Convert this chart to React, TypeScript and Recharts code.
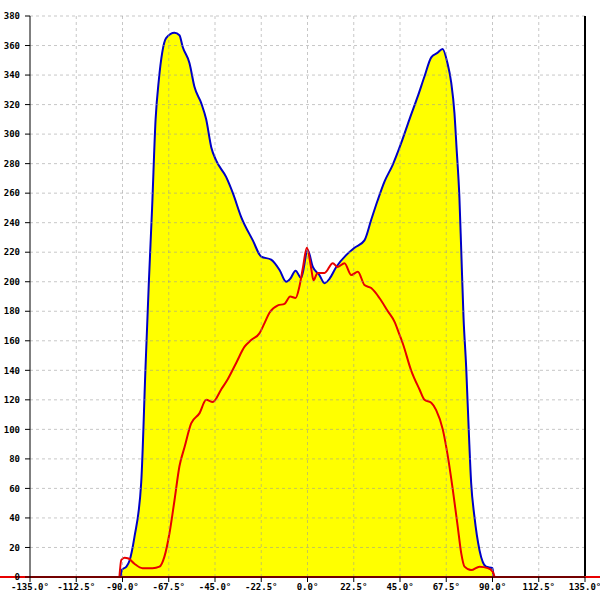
import * as React from "react"
import {
  ComposedChart,
  Area,
  Line,
  XAxis,
  YAxis,
  ReferenceLine,
} from "recharts"

// angle (deg) / intensity pairs
const outerAngles = [
  -91.0, -90.2, -88.1, -86.6, -84.2, -80.9, -78.8, -77.2, -75.6, -73.9, -72.3, -70.7, -68.8,
  -64.7, -62.3, -60.7, -57.4, -55.0, -51.7, -49.3, -46.8, -44.4, -39.6, -36.3, -32.3, -26.6,
  -22.5, -17.7, -13.6, -10.4, -8.4, -5.8, -3.1, 0.1, 2.6, 5.8, 8.3, 10.7, 14.0, 18.8, 22.9,
  27.7, 31.0, 34.1, 37.5, 41.4, 45.6, 49.6, 53.5, 56.9, 60.2, 63.2, 65.7, 68.1, 69.9, 71.5,
  72.5, 73.9, 74.8, 75.9, 77.2, 78.5, 79.6, 81.2, 83.7, 86.9, 90.0, 90.5,
]
const outerValues = [
  0, 5, 7, 11, 27, 64, 142, 199, 250, 310, 337, 355, 365,
  368.7, 367, 359, 348, 332, 321, 310, 291, 282, 271, 260, 244, 228,
  217, 215, 208, 200, 202, 207.5, 202.5, 221.5, 210, 204.5, 199, 202, 210, 218, 223,
  228, 242, 255, 268, 279, 294, 310, 325, 339, 352, 355, 357.6, 348, 335, 314,
  291, 257, 221, 176, 142, 97.5, 64, 41, 18, 7, 6, 0,
]

const innerAngles = [
  -91.5, -90.6, -89.0, -87.1, -84.2, -80.3, -75.4, -72.0, -69.6, -67.1, -64.7, -62.3, -59.8,
  -56.6, -52.5, -49.3, -46.1, -42.0, -38.8, -34.7, -30.6, -27.4, -23.4, -20.9, -18.5, -14.4,
  -11.2, -8.4, -5.8, -3.9, -2.3, -0.3, 1.8, 2.9, 4.9, 8.3, 12.3, 14.7, 18.0, 21.3, 24.5,
  27.7, 31.0, 35.0, 39.1, 42.3, 44.8, 46.4, 50.4, 54.5, 56.9, 60.2, 62.6, 65.8, 68.3, 70.7,
  73.1, 74.8, 76.4, 79.6, 83.7, 87.7, 90.1, 91.0,
]
const innerValues = [
  0, 11.5, 13, 12.5, 9, 6, 6, 7, 13.8, 30, 52, 75, 88,
  104, 111, 120, 118.5, 127, 134, 145, 156, 160.5, 165, 172, 179, 184,
  185, 190, 189, 197, 209, 223, 209, 201, 206, 206, 212.6, 210, 212.6, 204.5, 206.8,
  197.8, 195.7, 189, 180, 173, 164, 158, 140, 127, 120, 118, 113, 100, 81.5, 59,
  34, 16, 7, 4.7, 7, 6, 3.6, 0,
]

const xTicks = [-135, -112.5, -90, -67.5, -45, -22.5, 0, 22.5, 45, 67.5, 90, 112.5, 135]
const yTicks = Array.from({ length: 20 }, (_, i) => i * 20)

const outerData = outerAngles.map((a, i) => ({ angle: a, value: outerValues[i] }))
const innerData = innerAngles.map((a, i) => ({ angle: a, value: innerValues[i] }))

const tickFont = { fontFamily: "DejaVu Sans Mono", fontSize: 9, fontWeight: "bold", fill: "#000" }

// grid is drawn on top of the yellow fill in the original, so use reference lines
const gridStyle = { stroke: "#999", strokeOpacity: 0.55, strokeDasharray: "3 3", strokeWidth: 1 }

export default function App() {
  return (
    <div>
      <style>{"body{margin:0}"}</style>
      <ComposedChart
        width={600}
        height={600}
        margin={{ top: 16, right: 15, bottom: 0, left: 0 }}
      >
        <XAxis
          type="number"
          dataKey="angle"
          domain={[-135, 135]}
          ticks={xTicks}
          tickFormatter={(v: number) => v.toFixed(1) + "°"}
          interval={0}
          height={23}
          tick={tickFont}
          tickSize={5}
          stroke="#000"
        />
        <YAxis
          type="number"
          domain={[0, 380]}
          ticks={yTicks}
          interval={0}
          width={30}
          tick={tickFont}
          tickSize={5}
          tickMargin={5}
          stroke="#000"
        />
        <Area
          data={outerData}
          dataKey="value"
          type="monotone"
          stroke="#0000c8"
          strokeWidth={2}
          fill="#ffff00"
          fillOpacity={1}
          isAnimationActive={false}
        />
        <Line
          data={innerData}
          dataKey="value"
          type="monotone"
          stroke="#e80000"
          strokeWidth={2}
          dot={false}
          isAnimationActive={false}
        />
        {xTicks.slice(1, -1).map((t) => (
          <ReferenceLine key={"vx" + t} x={t} {...gridStyle} />
        ))}
        {yTicks.slice(1).map((t) => (
          <ReferenceLine key={"hy" + t} y={t} {...gridStyle} />
        ))}
        <ReferenceLine x={135} stroke="#000" strokeWidth={2} />
        <ReferenceLine
          segment={[{ x: -150, y: 0 }, { x: 143, y: 0 }]}
          stroke="#e80000"
          strokeWidth={2}
          ifOverflow="visible"
        />
      </ComposedChart>
    </div>
  )
}
